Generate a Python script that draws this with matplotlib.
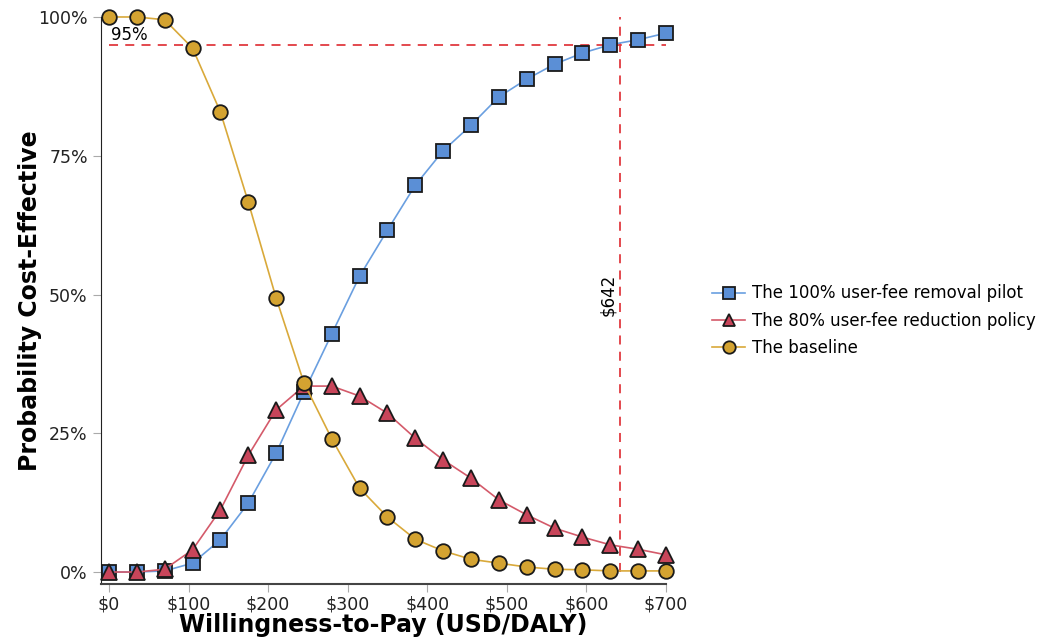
import numpy as np
import matplotlib.pyplot as plt
from matplotlib.ticker import FuncFormatter

# willingness-to-pay thresholds (USD/DALY)
wtp = [0, 35, 70, 105, 140, 175, 210, 245, 280, 315, 350,
       385, 420, 455, 490, 525, 560, 595, 630, 665, 700]

# probability cost-effective for each strategy
pilot100 = [0.0, 0.0, 0.002, 0.016, 0.058, 0.124, 0.214, 0.324, 0.429, 0.533, 0.616,
            0.697, 0.759, 0.805, 0.856, 0.888, 0.915, 0.935, 0.950, 0.959, 0.971]
policy80 = [0.0, 0.0, 0.005, 0.040, 0.112, 0.210, 0.292, 0.335, 0.335, 0.317, 0.286,
            0.241, 0.202, 0.169, 0.130, 0.103, 0.079, 0.063, 0.049, 0.041, 0.031]
baseline = [1.0, 1.0, 0.995, 0.944, 0.829, 0.667, 0.494, 0.341, 0.240, 0.151, 0.099,
            0.059, 0.038, 0.023, 0.016, 0.009, 0.005, 0.004, 0.002, 0.002, 0.002]

labels = ['The 100% user-fee removal pilot', 'The 80% user-fee reduction policy', 'The baseline']
threshold = 642
target = 0.95

fig = plt.figure(figsize=(10.37, 6.41), dpi=100)
ax = fig.add_axes([0.0974, 0.0889, 0.5448, 0.8846])

ax.plot(wtp, pilot100, color='#6a9fe0', lw=1.2, marker='s', ms=10,
        mfc='#5b8fd6', mec='#1a1a1a', mew=1.3, label=labels[0], clip_on=False, zorder=3)
ax.plot(wtp, policy80, color='#d45a6a', lw=1.2, marker='^', ms=11,
        mfc='#c8455a', mec='#1a1a1a', mew=1.3, label=labels[1], clip_on=False, zorder=3)
ax.plot(wtp, baseline, color='#d9a93a', lw=1.2, marker='o', ms=10.5,
        mfc='#d4a331', mec='#1a1a1a', mew=1.3, label=labels[2], clip_on=False, zorder=4)

# reference lines
ax.plot([0, 700], [target, target], color='#e03a40', lw=1.3, ls=(0, (5, 4)), zorder=2)
ax.plot([threshold, threshold], [0, 1.0], color='#e03a40', lw=1.3, ls=(0, (5, 4)), zorder=2)
ax.text(3, target + 0.002, '95%', fontsize=12, ha='left', va='bottom')
ax.text(threshold - 3, 0.5, '$%d' % threshold, fontsize=12, rotation=90,
        ha='right', va='center')

ax.set_xlim(-10, 700)
ax.set_ylim(-0.0216, 1.0)
ax.spines['top'].set_visible(False)
ax.spines['right'].set_visible(False)
ax.spines['left'].set_color('#222222')
ax.spines['bottom'].set_color('#444444')
ax.spines['bottom'].set_linewidth(1.5)

ax.set_xticks(np.arange(0, 701, 100))
ax.set_yticks([0, 0.25, 0.5, 0.75, 1.0])
ax.xaxis.set_major_formatter(FuncFormatter(lambda v, p: '$%d' % v))
ax.yaxis.set_major_formatter(FuncFormatter(lambda v, p: '%d%%' % round(v * 100)))
ax.tick_params(axis='both', colors='#aaaaaa', labelcolor='#222222', labelsize=12.5, length=6)
ax.tick_params(axis='x', pad=2)

ax.set_xlabel('Willingness-to-Pay (USD/DALY)', fontsize=17, fontweight='bold', labelpad=0)
ax.set_ylabel('Probability Cost-Effective', fontsize=17, fontweight='bold')
ax.yaxis.set_label_coords(-0.104, 0.5)

leg = ax.legend(loc='center left', bbox_to_anchor=(0.672, 0.5), bbox_transform=fig.transFigure,
                frameon=False, fontsize=12, handlelength=2.0, handletextpad=0.4,
                labelspacing=0.55, markerscale=0.85)

fig.savefig('out.png', dpi=100)
